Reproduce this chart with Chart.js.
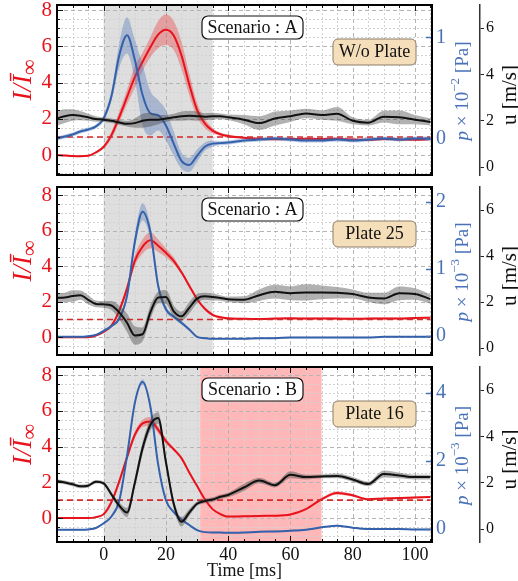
<!DOCTYPE html>
<html>
<head>
<meta charset="utf-8">
<script src="https://cdn.jsdelivr.net/npm/chart.js@4/dist/chart.umd.min.js"></script>
<style>
  body { margin: 0; background: #fff; }
  #wrap { position: relative; width: 518px; height: 581px; }
  canvas { position: absolute; left: 0; }
</style>
</head>
<body>
<div id="wrap">
  <canvas id="c1" width="518" height="182" style="top:0px"></canvas>
  <canvas id="c2" width="518" height="180" style="top:182px"></canvas>
  <canvas id="c3" width="518" height="219" style="top:362px"></canvas>
</div>
<script>
// time axis shared by every series [ms]
const time = [-15, -12.5, -10, -7.5, -5, -2.5, 0, 2.5, 5, 7.5, 10, 12.5, 15, 17.5, 20, 22.5, 25, 27.5, 30, 32.5, 35, 37.5, 40, 45, 50, 55, 60, 65, 70, 75, 80, 85, 90, 95, 100, 105];

// Scenario A, without plate
const p1Intensity = [0, -0.02, -0.05, -0.06, -0.04, 0.15, 0.45, 1.1, 2.1, 3.2, 4.3, 5.15, 5.95, 6.65, 6.92, 6.6, 5.5, 3.9, 2.5, 1.75, 1.35, 1.15, 1.05, 0.95, 0.9, 0.87, 0.88, 0.9, 0.88, 0.9, 0.86, 0.85, 0.88, 0.86, 0.84, 0.88];
const p1IntensitySd = [0.05, 0.05, 0.05, 0.05, 0.05, 0.06, 0.1, 0.2, 0.3, 0.4, 0.6, 0.5, 0.55, 0.75, 0.85, 0.8, 0.75, 0.6, 0.4, 0.25, 0.15, 0.1, 0.08, 0.06, 0.06, 0.05, 0.06, 0.06, 0.05, 0.06, 0.06, 0.05, 0.06, 0.05, 0.05, 0.06];
const p1Pressure = [0.0, 0.02, 0.04, 0.07, 0.09, 0.12, 0.2, 0.42, 0.82, 1.02, 0.78, 0.43, 0.25, 0.23, 0.13, -0.05, -0.22, -0.26, -0.17, -0.08, -0.05, -0.045, -0.04, -0.02, -0.01, 0.0, -0.01, -0.02, -0.02, -0.01, -0.02, -0.01, 0.0, -0.01, 0.0, 0.0];
const p1PressureSd = [0.02, 0.02, 0.02, 0.02, 0.02, 0.02, 0.03, 0.05, 0.12, 0.18, 0.2, 0.3, 0.22, 0.15, 0.15, 0.12, 0.08, 0.07, 0.06, 0.04, 0.03, 0.02, 0.02, 0.02, 0.02, 0.02, 0.02, 0.02, 0.02, 0.02, 0.02, 0.02, 0.02, 0.02, 0.02, 0.02];
const p1Velocity = [2.1, 2.2, 2.25, 2.22, 2.15, 2.08, 2.05, 2.0, 1.93, 1.87, 1.9, 2.0, 2.05, 2.05, 2.1, 2.15, 2.2, 2.22, 2.2, 2.18, 2.2, 2.2, 2.15, 2.05, 1.9, 2.1, 2.2, 2.32, 2.25, 2.3, 2.0, 1.92, 2.18, 2.15, 2.05, 1.95];
const p1VelocitySd = [0.3, 0.3, 0.25, 0.2, 0.15, 0.12, 0.1, 0.1, 0.1, 0.12, 0.2, 0.3, 0.3, 0.2, 0.15, 0.15, 0.2, 0.2, 0.2, 0.15, 0.15, 0.12, 0.12, 0.2, 0.3, 0.3, 0.25, 0.2, 0.2, 0.3, 0.15, 0.12, 0.25, 0.3, 0.2, 0.15];

// Scenario A, plate 25
const p2Intensity = [0, 0, 0, 0, 0, 0.1, 0.3, 0.65, 1.5, 2.75, 4.3, 5.1, 5.45, 5.15, 4.75, 4.3, 3.65, 2.9, 2.15, 1.6, 1.26, 1.12, 1.07, 1.04, 1.03, 1.05, 1.07, 1.05, 1.06, 1.05, 1.04, 1.05, 1.06, 1.05, 1.08, 1.1];
const p2IntensitySd = [0.03, 0.03, 0.03, 0.03, 0.03, 0.04, 0.05, 0.08, 0.12, 0.2, 0.3, 0.4, 0.45, 0.35, 0.25, 0.2, 0.12, 0.1, 0.08, 0.08, 0.08, 0.08, 0.06, 0.05, 0.05, 0.05, 0.05, 0.05, 0.05, 0.05, 0.05, 0.05, 0.05, 0.05, 0.05, 0.05];
const p2Pressure = [-0.01, -0.01, -0.01, -0.01, 0.0, 0.02, 0.08, 0.15, 0.26, 0.6, 1.4, 1.85, 1.55, 0.75, 0.4, 0.29, 0.2, 0.1, -0.01, -0.03, -0.04, -0.04, -0.04, -0.04, -0.03, -0.03, -0.02, -0.02, -0.02, -0.02, -0.02, -0.02, -0.01, -0.01, -0.01, -0.01];
const p2PressureSd = [0.01, 0.01, 0.01, 0.01, 0.01, 0.01, 0.02, 0.02, 0.03, 0.06, 0.1, 0.13, 0.1, 0.06, 0.04, 0.03, 0.03, 0.02, 0.01, 0.01, 0.01, 0.01, 0.01, 0.01, 0.01, 0.01, 0.01, 0.01, 0.01, 0.01, 0.01, 0.01, 0.01, 0.01, 0.01, 0.01];
const p2Velocity = [2.18, 2.2, 2.26, 2.3, 2.1, 1.92, 1.9, 1.85, 1.55, 1.1, 0.55, 0.6, 1.55, 2.2, 2.22, 1.6, 1.38, 1.75, 2.15, 2.25, 2.22, 2.18, 2.12, 2.1, 2.3, 2.45, 2.38, 2.42, 2.42, 2.4, 2.35, 2.2, 2.15, 2.38, 2.35, 2.13];
const p2VelocitySd = [0.2, 0.2, 0.25, 0.2, 0.2, 0.15, 0.15, 0.2, 0.3, 0.4, 0.4, 0.3, 0.3, 0.25, 0.3, 0.25, 0.2, 0.25, 0.2, 0.15, 0.15, 0.12, 0.12, 0.15, 0.25, 0.3, 0.3, 0.35, 0.3, 0.25, 0.2, 0.2, 0.25, 0.3, 0.25, 0.2];

// Scenario B, plate 16
const p3Intensity = [0, 0, 0, 0, 0, 0.05, 0.22, 0.9, 2.05, 3.4, 4.65, 5.3, 5.4, 4.95, 4.3, 3.85, 3.35, 2.55, 1.8, 1.05, 0.5, 0.22, 0.08, 0.1, 0.12, 0.13, 0.2, 0.5, 1.05, 1.4, 1.27, 1.05, 1.1, 1.12, 1.15, 1.18];
const p3IntensitySd = [0.03, 0.03, 0.03, 0.03, 0.03, 0.04, 0.05, 0.1, 0.15, 0.2, 0.2, 0.2, 0.25, 0.2, 0.15, 0.1, 0.1, 0.1, 0.08, 0.06, 0.05, 0.05, 0.04, 0.04, 0.04, 0.04, 0.05, 0.05, 0.08, 0.1, 0.08, 0.06, 0.05, 0.05, 0.05, 0.05];
const p3Pressure = [-0.02, -0.02, -0.02, -0.02, -0.01, 0.03, 0.17, 0.37, 0.83, 2.15, 3.7, 4.32, 3.6, 1.9, 0.85, 0.5, 0.28, 0.12, -0.03, -0.09, -0.1, -0.1, -0.11, -0.1, -0.08, -0.07, -0.05, -0.02, 0.05, 0.1, 0.04, 0.0, 0.0, 0.0, -0.01, -0.01];
const p3PressureSd = [0.02, 0.02, 0.02, 0.02, 0.02, 0.02, 0.02, 0.03, 0.04, 0.06, 0.08, 0.08, 0.08, 0.06, 0.04, 0.03, 0.03, 0.02, 0.02, 0.02, 0.02, 0.02, 0.02, 0.02, 0.02, 0.02, 0.02, 0.02, 0.02, 0.02, 0.02, 0.02, 0.02, 0.02, 0.02, 0.02];
const p3Velocity = [2.08, 2.02, 1.94, 1.85, 1.88, 2.05, 1.98, 1.5, 1.02, 0.72, 2.0, 3.5, 4.5, 4.8, 2.9, 1.1, 0.32, 0.72, 1.1, 1.22, 1.28, 1.4, 1.48, 1.8, 2.1, 1.9, 2.35, 2.25, 2.28, 2.3, 2.15, 1.95, 2.38, 2.32, 2.25, 2.25];
const p3VelocitySd = [0.08, 0.08, 0.08, 0.08, 0.08, 0.08, 0.08, 0.1, 0.15, 0.2, 0.2, 0.25, 0.25, 0.25, 0.2, 0.2, 0.2, 0.15, 0.1, 0.1, 0.1, 0.1, 0.1, 0.15, 0.12, 0.1, 0.15, 0.1, 0.08, 0.1, 0.1, 0.1, 0.15, 0.12, 0.1, 0.1];

// shaded time windows [ms]
const windowA = [0, 35];
const windowB = [0, 31];
const windowBplate = [31, 70];

const refLevel = 1;
const scenarioLabels = ['Scenario : A', 'Scenario : A', 'Scenario : B'];
const plateLabels = ['W/o Plate', 'Plate 25', 'Plate 16'];
const pressureExponents = ['\u22122', '\u22123', '\u22123'];

const SERIF = "'Liberation Serif', 'DejaVu Serif', serif";
const RED = '#e8121c';
const BLUE = '#3461ab';
const BLUE_TXT = '#4a72b8';
const GRAY = '#dedede';
const PINK = '#ffb7b7';

function pts(vals) { return time.map((t, i) => ({ x: t, y: vals[i] })); }
function shift(vals, sd, k) { return vals.map((v, i) => v + k * sd[i]); }
function isMult(v, m) { return Math.abs(v / m - Math.round(v / m)) < 1e-6; }

function bandSets(mean, sd, axis, fillColor, lineColor, order) {
  const none = 'rgba(0,0,0,0)';
  return [
    { data: pts(shift(mean, sd, -1)), yAxisID: axis, borderWidth: 0, borderColor: none, pointRadius: 0, fill: false, order: order + 1 },
    { data: pts(shift(mean, sd, 1)), yAxisID: axis, borderWidth: 0, borderColor: none, pointRadius: 0, fill: '-1', backgroundColor: fillColor, order: order + 1 },
    { data: pts(mean), yAxisID: axis, borderColor: lineColor, borderWidth: 2, pointRadius: 0, fill: false, order: order }
  ];
}

function richText(ctx, parts, cx, cy, rot) {
  ctx.save();
  ctx.translate(cx, cy);
  ctx.rotate(rot);
  let total = 0;
  parts.forEach(p => { ctx.font = p.font; p.w = ctx.measureText(p.text).width; total += p.w; });
  let x = -total / 2;
  ctx.textAlign = 'left';
  ctx.textBaseline = 'middle';
  parts.forEach(p => {
    ctx.font = p.font;
    ctx.fillStyle = p.color;
    ctx.fillText(p.text, x, p.dy || 0);
    x += p.w;
  });
  ctx.restore();
}

function roundBox(ctx, x, y, w, h, r, fill, stroke, lw) {
  ctx.beginPath();
  ctx.moveTo(x + r, y);
  ctx.arcTo(x + w, y, x + w, y + h, r);
  ctx.arcTo(x + w, y + h, x, y + h, r);
  ctx.arcTo(x, y + h, x, y, r);
  ctx.arcTo(x, y, x + w, y, r);
  ctx.closePath();
  ctx.fillStyle = fill;
  ctx.fill();
  ctx.lineWidth = lw;
  ctx.strokeStyle = stroke;
  ctx.stroke();
}

function hline(ctx, x1, y1, x2, y2) {
  ctx.beginPath(); ctx.moveTo(x1, y1); ctx.lineTo(x2, y2); ctx.stroke();
}

// shading, grid, frame, inner ticks, titles and labels
function decor(pn, k) {
  return {
    id: 'decor' + k,
    beforeDatasetsDraw(chart) {
      const { ctx, chartArea: a, scales } = chart;
      ctx.save();
      ctx.beginPath(); ctx.rect(a.left, a.top, a.width, a.height); ctx.clip();
      pn.shades.forEach(s => {
        const x0 = scales.x.getPixelForValue(s.range[0]);
        const x1 = scales.x.getPixelForValue(s.range[1]);
        ctx.fillStyle = s.color;
        ctx.fillRect(x0, a.top, x1 - x0, a.height);
      });
      scales.x.ticks.forEach(t => {
        const major = isMult(t.value, 20);
        const px = Math.round(scales.x.getPixelForValue(t.value)) + 0.5;
        ctx.strokeStyle = major ? '#b4b4b4' : '#d2d2d2';
        ctx.lineWidth = 1;
        ctx.setLineDash(major ? [4, 3] : [2, 2]);
        hline(ctx, px, a.top, px, a.bottom);
      });
      scales.yL.ticks.forEach(t => {
        const major = isMult(t.value, 2);
        const py = Math.round(scales.yL.getPixelForValue(t.value)) + 0.5;
        ctx.strokeStyle = major ? '#b4b4b4' : '#d2d2d2';
        ctx.lineWidth = 1;
        ctx.setLineDash(major ? [4, 3] : [2, 2]);
        hline(ctx, a.left, py, a.right, py);
      });
      ctx.restore();
    },
    afterDatasetsDraw(chart) {
      const { ctx, chartArea: a, scales } = chart;
      ctx.save();
      ctx.strokeStyle = '#111';
      ctx.lineWidth = 1;
      scales.x.ticks.forEach(t => {
        const len = isMult(t.value, 20) ? 6 : 3;
        const px = Math.round(scales.x.getPixelForValue(t.value)) + 0.5;
        hline(ctx, px, a.bottom, px, a.bottom - len);
        hline(ctx, px, a.top, px, a.top + len);
      });
      scales.yL.ticks.forEach(t => {
        const len = isMult(t.value, 2) ? 6 : 3;
        const py = Math.round(scales.yL.getPixelForValue(t.value)) + 0.5;
        hline(ctx, a.left, py, a.left + len, py);
      });
      ctx.strokeStyle = BLUE_TXT;
      ctx.lineWidth = 1.5;
      scales.yP.ticks.forEach(t => {
        const py = Math.round(scales.yP.getPixelForValue(t.value)) + 0.5;
        hline(ctx, a.right, py, a.right - 6, py);
      });
      ctx.strokeStyle = '#000';
      ctx.lineWidth = 2;
      ctx.strokeRect(a.left, a.top, a.width, a.height);
      ctx.restore();
    },
    afterDraw(chart) {
      const { ctx, chartArea: a } = chart;
      const midY = (a.top + a.bottom) / 2;
      richText(ctx, [
        { text: 'I/\u012A', font: 'italic 27px ' + SERIF, color: RED },
        { text: '\u221E', font: '22px ' + SERIF, color: RED, dy: 6 }
      ], a.left - 33, midY - 10, -Math.PI / 2);
      richText(ctx, [
        { text: 'p', font: 'italic 19px ' + SERIF, color: BLUE_TXT },
        { text: ' \u00D7 10', font: '19px ' + SERIF, color: BLUE_TXT },
        { text: pn.pExp, font: '13px ' + SERIF, color: BLUE_TXT, dy: -7 },
        { text: ' [Pa]', font: '19px ' + SERIF, color: BLUE_TXT }
      ], a.right + 31, midY + 1, -Math.PI / 2);
      richText(ctx, [
        { text: 'u [m/s]', font: '21px ' + SERIF, color: '#111' }
      ], a.right + 78, midY + 5, -Math.PI / 2);

      ctx.save();
      const sx = a.left + 145, sy = a.top + 11;
      roundBox(ctx, sx, sy, 101, 23, 6, '#fff', '#111', 1.2);
      const bx = a.left + 276, by = a.top + 34;
      roundBox(ctx, bx, by, 83, 26, 5, '#f5dfba', '#8c7d6a', 1);
      ctx.fillStyle = '#111';
      ctx.font = '18px ' + SERIF;
      ctx.textAlign = 'center';
      ctx.textBaseline = 'middle';
      ctx.fillText(pn.scenario, sx + 50.5, sy + 12.5);
      ctx.fillText(pn.plate, bx + 41.5, by + 13.5);
      ctx.restore();
    }
  };
}

const panels = [
  { canvas: 'c1', I: p1Intensity, Isd: p1IntensitySd, P: p1Pressure, Psd: p1PressureSd, U: p1Velocity, Usd: p1VelocitySd,
    yL: [-1.1, 8.28], yP: [-0.36, 1.32], pStep: 1, yU: [-0.34, 7.0],
    shades: [{ range: windowA, color: GRAY }], xLabels: false, xHeight: 7 },
  { canvas: 'c2', I: p2Intensity, Isd: p2IntensitySd, P: p2Pressure, Psd: p2PressureSd, U: p2Velocity, Usd: p2VelocitySd,
    yL: [-1.0, 8.45], yP: [-0.28, 2.22], pStep: 1, yU: [-0.3, 7.0],
    shades: [{ range: windowA, color: GRAY }], xLabels: false, xHeight: 7 },
  { canvas: 'c3', I: p3Intensity, Isd: p3IntensitySd, P: p3Pressure, Psd: p3PressureSd, U: p3Velocity, Usd: p3VelocitySd,
    yL: [-1.34, 8.45], yP: [-0.38, 4.76], pStep: 2, yU: [-0.55, 7.0],
    shades: [{ range: windowB, color: GRAY }, { range: windowBplate, color: PINK }], xLabels: true, xHeight: 39 }
];

panels.forEach((pn, k) => {
  pn.scenario = scenarioLabels[k];
  pn.plate = plateLabels[k];
  pn.pExp = pressureExponents[k];

  const datasets = [
    ...bandSets(pn.I, pn.Isd, 'yL', 'rgba(235,45,45,0.35)', RED, 6),
    ...bandSets(pn.P, pn.Psd, 'yP', 'rgba(70,110,180,0.35)', BLUE, 3),
    ...bandSets(pn.U, pn.Usd, 'yU', 'rgba(70,70,70,0.42)', '#111', 1),
    { data: [{ x: time[0], y: refLevel }, { x: time[time.length - 1], y: refLevel }], yAxisID: 'yL',
      borderColor: '#d32a2a', borderWidth: 1.6, borderDash: [6, 4], pointRadius: 0, fill: false, order: 5 }
  ];

  const fit = size => s => {
    if (s.isHorizontal()) s.height = size; else s.width = size;
    s.paddingTop = 0; s.paddingBottom = 0; s.paddingLeft = 0; s.paddingRight = 0;
  };

  new Chart(document.getElementById(pn.canvas), {
    type: 'line',
    data: { datasets },
    plugins: [decor(pn, k)],
    options: {
      responsive: false,
      devicePixelRatio: 1,
      animation: false,
      events: [],
      layout: { padding: { top: 5, left: 0, right: 0, bottom: 0 }, autoPadding: false },
      elements: { line: { cubicInterpolationMode: 'monotone' } },
      plugins: { legend: { display: false }, tooltip: { enabled: false } },
      scales: {
        x: {
          type: 'linear', position: 'bottom', min: -15, max: 105.5,
          afterFit: fit(pn.xHeight),
          grid: { display: false, drawTicks: false }, border: { display: false },
          ticks: {
            display: pn.xLabels, stepSize: 5, autoSkip: false, maxRotation: 0, minRotation: 0, includeBounds: false,
            padding: 2, color: '#111', font: { family: SERIF, size: 18 },
            callback: v => isMult(v, 20) ? String(v) : ''
          },
          title: { display: pn.xLabels, text: 'Time [ms]', color: '#111', font: { family: SERIF, size: 18, lineHeight: 1 }, padding: { top: 0, bottom: 1 } }
        },
        yL: {
          type: 'linear', position: 'left', min: pn.yL[0], max: pn.yL[1],
          afterFit: fit(57),
          grid: { display: false, drawTicks: false }, border: { display: false },
          ticks: {
            stepSize: 0.5, autoSkip: false, includeBounds: false, padding: 5, color: RED,
            font: { family: SERIF, size: 21 },
            callback: v => isMult(v, 2) ? String(v) : ''
          }
        },
        yP: {
          type: 'linear', position: 'right', weight: 0, min: pn.yP[0], max: pn.yP[1],
          afterFit: fit(48),
          grid: { display: false, drawTicks: false }, border: { display: false },
          ticks: {
            stepSize: pn.pStep, autoSkip: false, includeBounds: false, padding: 4, color: BLUE_TXT,
            font: { family: SERIF, size: 20 }
          }
        },
        yU: {
          type: 'linear', position: 'right', weight: 1, min: pn.yU[0], max: pn.yU[1],
          afterFit: fit(38),
          grid: { display: true, drawOnChartArea: false, drawTicks: true, tickLength: 4, color: '#222', lineWidth: 1 },
          border: { display: true, color: '#333', width: 1.5 },
          ticks: {
            stepSize: 2, autoSkip: false, includeBounds: false, padding: 2, color: '#111',
            font: { family: SERIF, size: 16 }
          }
        }
      }
    }
  });
});
</script>
</body>
</html>
